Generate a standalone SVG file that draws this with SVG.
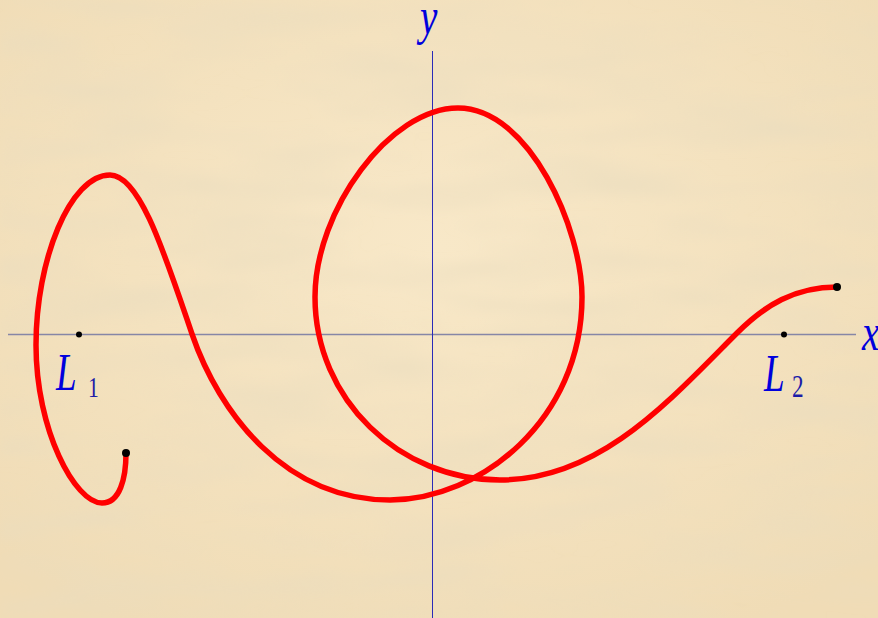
<svg xmlns="http://www.w3.org/2000/svg" width="878" height="618" viewBox="0 0 878 618">
<style>
.lbl{font-family:"Liberation Serif","Times New Roman",serif;font-style:italic;fill:#0000dd}
.sub{font-family:"Liberation Serif","Times New Roman",serif;fill:#1c1ca8}
.dot{fill:#000}
</style>
<defs>
<filter id="tex" x="0" y="0" width="100%" height="100%">
<feTurbulence type="fractalNoise" baseFrequency="0.006 0.035" numOctaves="3" seed="7"/>
<feColorMatrix type="matrix" values="0 0 0 0 0.82  0 0 0 0 0.72  0 0 0 0 0.52  0 0 0 1.3 -0.5"/>
<feGaussianBlur stdDeviation="4"/>
</filter>
<radialGradient id="glow" cx="0.5" cy="0.4" r="0.7">
<stop offset="0" stop-color="#f8e8c8"/>
<stop offset="1" stop-color="#f0dcb6"/>
</radialGradient>
</defs>
<g id="background">
<rect width="878" height="618" fill="url(#glow)"/>
<rect width="878" height="618" filter="url(#tex)"/>
</g>
<g id="axes">
<line x1="8" y1="334.5" x2="856" y2="334.5" stroke="#8686a6" stroke-width="1.5"/>
<line x1="432.5" y1="51" x2="432.5" y2="618" stroke="#2a2ab8" stroke-width="1"/>
</g>
<g id="connectors">
<path id="curve" d="M126,453 C126,478 120,503 102,503 C75,503 36,430 36,345 C36,260 70,175 110,175 C140,175 165,255 192,334 C219,413 285,500 390,500 C480,500 582,420 582,297 C582,230 530,108 458,108 C390,108 315,210 315,297 C315,400 400,480 500,480 C600,480 670,400 737,333 C765,305 795,287 837,287" fill="none" stroke="#ff0000" stroke-width="5.5" stroke-linecap="round" stroke-linejoin="round"/>
</g>
<g id="points">
<circle class="dot" cx="126" cy="453" r="4"/>
<circle class="dot" cx="837" cy="287" r="4"/>
<circle id="L1-point" class="dot" cx="79" cy="334.5" r="3"/>
<circle id="L2-point" class="dot" cx="784" cy="334.5" r="3"/>
</g>
<g id="labels">
<g id="label-y"><text class="lbl" font-size="53" transform="translate(420,34) scale(0.74,1)">y</text></g>
<g id="label-x"><text class="lbl" font-size="53" transform="translate(862,350) scale(0.74,1)">x</text></g>
<g id="label-L1"><text class="lbl" font-size="53" transform="translate(56,390) scale(0.7,1)">L</text><text class="sub" font-size="30" transform="translate(88,397) scale(0.72,1)">1</text></g>
<g id="label-L2"><text class="lbl" font-size="53" transform="translate(764,391) scale(0.7,1)">L</text><text class="sub" font-size="31" transform="translate(792,397) scale(0.75,1)">2</text></g>
</g>
</svg>
